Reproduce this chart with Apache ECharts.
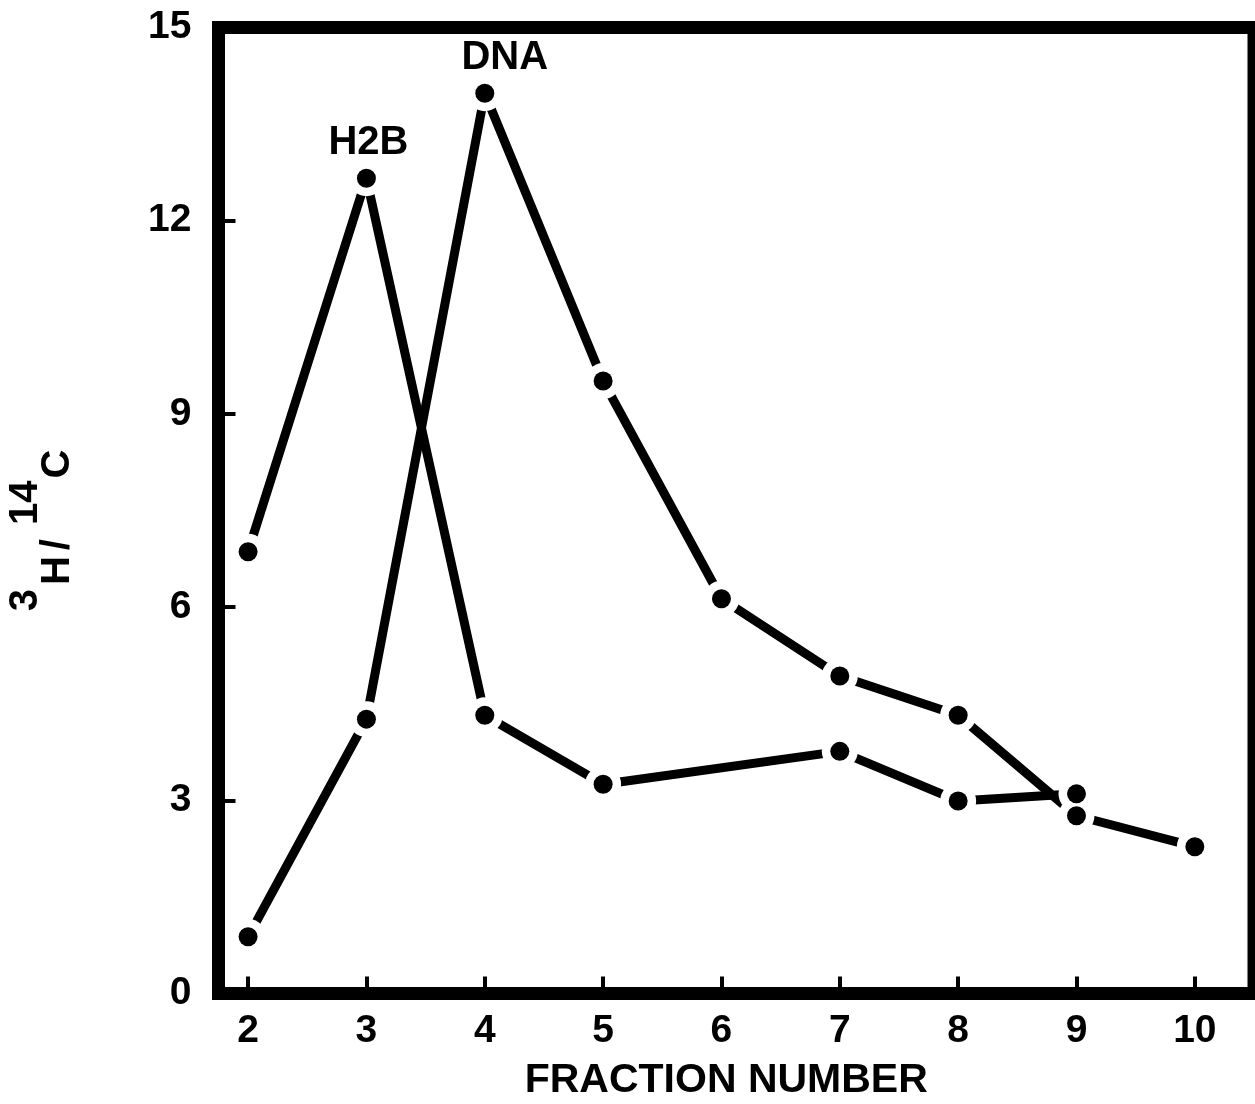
<!DOCTYPE html>
<html>
<head>
<meta charset="utf-8">
<script src="https://cdn.jsdelivr.net/npm/echarts@6/dist/echarts.min.js"></script>
<style>
  html, body { margin: 0; padding: 0; background: #fff; }
  #chart { width: 1255px; height: 1104px; }
</style>
</head>
<body>
<div id="chart"></div>
<script>
// Fraction numbers shown on the x axis
const fractionTicks = [2, 3, 4, 5, 6, 7, 8, 9, 10];
// 3H/14C ratio tick labels
const ratioTicks = [0, 3, 6, 9, 12, 15];

// H2B profile
const h2bFractions = [2, 3, 4, 5, 7, 8, 9];
const h2bRatio = [6.86, 12.66, 4.32, 3.25, 3.76, 2.99, 3.10];

// DNA profile
const dnaFractions = [2, 3, 4, 5, 6, 7, 8, 9, 10];
const dnaRatio = [0.88, 4.26, 13.98, 9.51, 6.13, 4.93, 4.32, 2.76, 2.28];

const FONT = "'Liberation Sans', Arial, sans-serif";
const INK = '#000';

function pairs(xs, ys) {
  return xs.map((x, i) => [x, ys[i]]);
}

// Dots, with the peak of each profile carrying the profile's name
function dotData(xs, ys, name, offset) {
  const peak = ys.indexOf(Math.max(...ys));
  return xs.map((x, i) => {
    const item = { value: [x, ys[i]] };
    if (i === peak) {
      item.label = {
        show: true,
        position: 'top',
        distance: 6,
        offset: offset,
        formatter: name,
        color: INK,
        fontFamily: FONT,
        fontWeight: 'bold',
        fontSize: 40
      };
    }
    return item;
  });
}

function lineSeries(name, xs, ys) {
  return {
    name: name,
    type: 'line',
    data: pairs(xs, ys),
    showSymbol: false,
    symbol: 'none',
    lineStyle: { color: INK, width: 9, cap: 'butt' },
    z: 2,
    silent: true
  };
}

// White rings leave a gap between each dot and the line segments
function haloSeries(xs, ys) {
  return {
    type: 'scatter',
    data: pairs(xs, ys),
    symbol: 'circle',
    symbolSize: 36,
    itemStyle: { color: '#fff', opacity: 1 },
    z: 3,
    silent: true
  };
}

function dotSeries(name, xs, ys, offset) {
  return {
    name: name,
    type: 'scatter',
    data: dotData(xs, ys, name, offset),
    symbol: 'circle',
    symbolSize: 19,
    itemStyle: { color: INK, opacity: 1 },
    z: 4,
    silent: true
  };
}

const titleGlyph = {
  color: INK, fontFamily: FONT, fontWeight: 'bold', fontSize: 40,
  verticalAlign: 'bottom'
};

const chart = echarts.init(document.getElementById('chart'), null, { renderer: 'canvas' });

chart.setOption({
  animation: false,
  backgroundColor: '#fff',
  grid: {
    left: 218.5,
    right: 1,
    top: 27.5,
    bottom: 110.5,
    outerBoundsMode: 'none',
    containLabel: false,
    show: true,
    borderWidth: 13,
    borderColor: INK,
    backgroundColor: 'transparent'
  },
  xAxis: {
    type: 'value',
    min: 1.75,
    max: 10.5,
    name: 'FRACTION NUMBER',
    nameLocation: 'middle',
    nameGap: 67,
    nameTextStyle: {
      color: INK, fontFamily: FONT, fontWeight: 'bold', fontSize: 41,
      padding: [0, 20, 0, 0]
    },
    axisLine: { show: false },
    splitLine: { show: false },
    axisTick: {
      show: true,
      inside: true,
      length: 17,
      customValues: fractionTicks,
      lineStyle: { color: INK, width: 4 }
    },
    axisLabel: {
      show: true,
      margin: 18,
      customValues: fractionTicks,
      color: INK,
      fontFamily: FONT,
      fontWeight: 'bold',
      fontSize: 39
    }
  },
  yAxis: {
    type: 'value',
    min: 0,
    max: 15,
    name: '{sup|3}{base|H}{slash|/}{supw|14}{base|C}',
    nameLocation: 'middle',
    nameGap: 141,
    nameTextStyle: {
      padding: [0, 40, 0, 0],
      rich: {
        sup: Object.assign({}, titleGlyph, { padding: [0, 4, 32, 0] }),
        supw: Object.assign({}, titleGlyph, { padding: [0, 2, 32, 8] }),
        base: Object.assign({}, titleGlyph),
        slash: Object.assign({}, titleGlyph, { padding: [0, 6, 0, 6] })
      }
    },
    axisLine: { show: false },
    splitLine: { show: false },
    axisTick: {
      show: true,
      inside: true,
      length: 17,
      customValues: ratioTicks,
      lineStyle: { color: INK, width: 4 }
    },
    axisLabel: {
      show: true,
      margin: 27,
      customValues: ratioTicks,
      color: INK,
      fontFamily: FONT,
      fontWeight: 'bold',
      fontSize: 39
    }
  },
  series: [
    lineSeries('H2B', h2bFractions, h2bRatio),
    lineSeries('DNA', dnaFractions, dnaRatio),
    haloSeries(h2bFractions, h2bRatio),
    haloSeries(dnaFractions, dnaRatio),
    dotSeries('H2B', h2bFractions, h2bRatio, [2, 0]),
    dotSeries('DNA', dnaFractions, dnaRatio, [20, 0])
  ]
});
</script>
</body>
</html>
